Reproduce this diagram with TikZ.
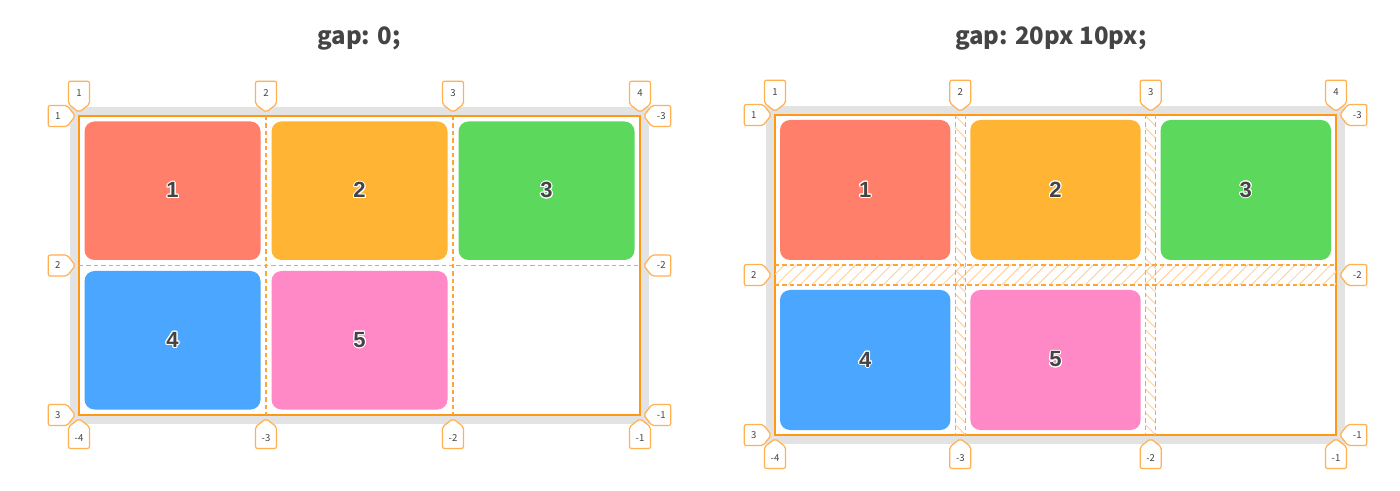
\documentclass[tikz,border=0pt]{standalone}
\usepackage{fontspec}
\newfontfamily\titlefont{Noto Sans CJK SC}
\newfontfamily\numfont{Liberation Sans}
\usepackage{contour}
\contourlength{0.5pt}
\usetikzlibrary{shapes.symbols,patterns.meta,positioning}

\definecolor{salmon}{RGB}{255,127,107}
\definecolor{amber}{RGB}{255,180,51}
\definecolor{leaf}{RGB}{92,216,92}
\definecolor{sky}{RGB}{74,166,255}
\definecolor{rose}{RGB}{255,136,198}
\definecolor{framegray}{RGB}{227,227,227}
\definecolor{gridorange}{RGB}{255,152,20}
\definecolor{trackorange}{RGB}{255,165,55}
\definecolor{tagorange}{RGB}{255,176,80}
\definecolor{hatchorange}{RGB}{255,210,160}
\definecolor{inkgray}{RGB}{68,68,68}

\newcommand{\itemno}[1]{\contour{white}{#1}}

\tikzset{
  title/.style={font=\titlefont\bfseries\fontsize{12}{14}\selectfont, text=inkgray, anchor=base},
  gridbox/.style={draw=gridorange, line width=0.6pt, fill=white},
  trackline/.style={draw=trackorange, line width=0.6pt, dash pattern=on 2.2pt off 1.5pt},
  gaphatch/.style={pattern={Lines[angle=#1, distance=4.2pt, line width=0.5pt]}, pattern color=hatchorange},
  griditem/.style={rounded corners=5pt, inner sep=0pt, text=inkgray,
    font=\numfont\bfseries\fontsize{11}{11}\selectfont},
  tag/.style={signal, draw=tagorange, fill=white, line width=0.6pt, rounded corners=1pt,
    inner sep=0pt, signal pointer angle=105, text=inkgray,
    font=\titlefont\fontsize{4.8}{5}\selectfont},
  tagdown/.style={tag, signal to=south, anchor=south, minimum width=10.5pt, minimum height=12.5pt},
  tagup/.style={tag, signal to=north, anchor=north, minimum width=10.5pt, minimum height=12.5pt},
  tagright/.style={tag, signal to=east, anchor=east, minimum width=13.5pt, minimum height=10.5pt},
  tagleft/.style={tag, signal to=west, anchor=west, minimum width=13.5pt, minimum height=10.5pt}
}

\begin{document}
\begin{tikzpicture}[x=0.5pt,y=-0.5pt]
\useasboundingbox (0,0) rectangle (1400,491);

% titles
\node[title] (t0) at (359,45) {gap: 0;};
\node[title] (t1) at (1051,45) {gap: 20px 10px;};

% --- gap: 0 ---
\fill[framegray] (70,107) rectangle (649,424);
\draw[gridbox] (79,116) rectangle (640,415);
\draw[trackline] (266,116) -- (266,415);
\draw[trackline] (453,116) -- (453,415);
\draw[trackline] (79,265.5) -- (640,265.5);

\node[griditem, fill=salmon, minimum width=88pt, minimum height=69.25pt] (a1) at (172.5,190.75) {\itemno{1}};
\node[griditem, fill=amber, minimum width=88pt, minimum height=69.25pt] (a2) at (359.5,190.75) {\itemno{2}};
\node[griditem, fill=leaf, minimum width=88pt, minimum height=69.25pt] (a3) at (546.5,190.75) {\itemno{3}};
\node[griditem, fill=sky, minimum width=88pt, minimum height=69.25pt] (a4) at (172.5,340.25) {\itemno{4}};
\node[griditem, fill=rose, minimum width=88pt, minimum height=69.25pt] (a5) at (359.5,340.25) {\itemno{5}};

\foreach \x/\n [count=\i] in {79/1,266/2,453/3,640/4} {
  \node[tagdown] (atop\i) at (\x,113) {\n};
}
\foreach \x/\n [count=\i] in {79/-4,266/-3,453/-2,640/-1} {
  \node[tagup] (abot\i) at (\x,418) {\n};
}
\foreach \y/\n [count=\i] in {116/1,265.5/2,415/3} {
  \node[tagright] (aleft\i) at (76,\y) {\n};
}
\foreach \y/\n [count=\i] in {116/-3,265.5/-2,415/-1} {
  \node[tagleft] (aright\i) at (643,\y) {\n};
}

% --- gap: 20px 10px ---
\fill[framegray] (766,106) rectangle (1345,444);
\draw[gridbox] (775,115) rectangle (1336,435);
\fill[gaphatch=-45] (955.33,115) rectangle (965.33,435);
\fill[gaphatch=-45] (1145.67,115) rectangle (1155.67,435);
\fill[gaphatch=45] (775,265) rectangle (1336,285);
\foreach \x in {955.33,965.33,1145.67,1155.67}
  \draw[trackline] (\x,115) -- (\x,435);
\draw[trackline] (775,265) -- (1336,265);
\draw[trackline] (775,285) -- (1336,285);

\node[griditem, fill=salmon, minimum width=85.17pt, minimum height=70pt] (b1) at (865.17,190) {\itemno{1}};
\node[griditem, fill=amber, minimum width=85.17pt, minimum height=70pt] (b2) at (1055.5,190) {\itemno{2}};
\node[griditem, fill=leaf, minimum width=85.17pt, minimum height=70pt] (b3) at (1245.83,190) {\itemno{3}};
\node[griditem, fill=sky, minimum width=85.17pt, minimum height=70pt] (b4) at (865.17,360) {\itemno{4}};
\node[griditem, fill=rose, minimum width=85.17pt, minimum height=70pt] (b5) at (1055.5,360) {\itemno{5}};

\foreach \x/\n [count=\i] in {775/1,960.33/2,1150.67/3,1336/4} {
  \node[tagdown] (btop\i) at (\x,112) {\n};
}
\foreach \x/\n [count=\i] in {775/-4,960.33/-3,1150.67/-2,1336/-1} {
  \node[tagup] (bbot\i) at (\x,438) {\n};
}
\foreach \y/\n [count=\i] in {115/1,275/2,435/3} {
  \node[tagright] (bleft\i) at (772,\y) {\n};
}
\foreach \y/\n [count=\i] in {115/-3,275/-2,435/-1} {
  \node[tagleft] (bright\i) at (1339,\y) {\n};
}
\end{tikzpicture}
\end{document}
